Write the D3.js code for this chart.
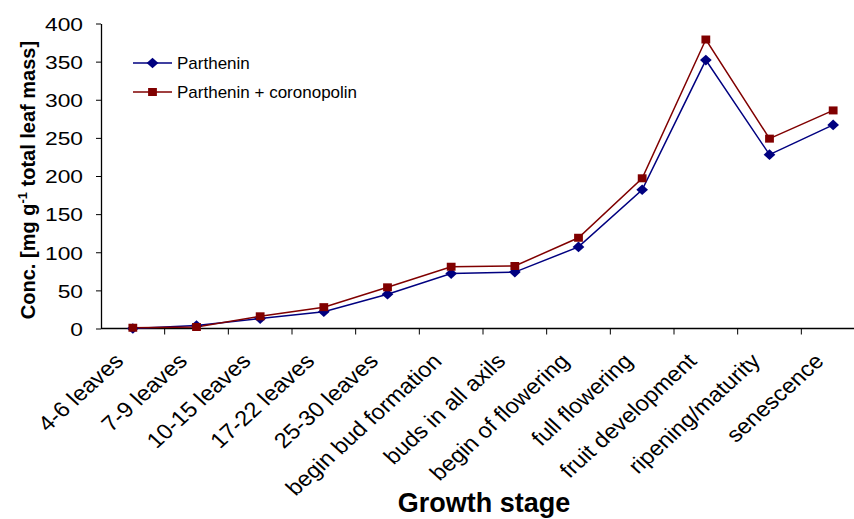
<!DOCTYPE html>
<html>
<head>
<meta charset="utf-8">
<script src="https://cdn.jsdelivr.net/npm/d3@7"></script>
<style>
  body { margin: 0; background: #fff; }
  svg { display: block; font-family: "Liberation Sans", Arial, sans-serif; }
</style>
</head>
<body>
<div id="chart"></div>
<script>
// growth stages along the x axis
const stages = ['4-6 leaves', '7-9 leaves', '10-15 leaves', '17-22 leaves', '25-30 leaves',
    'begin bud formation', 'buds in all axils', 'begin of flowering', 'full flowering',
    'fruit development', 'ripening/maturity', 'senescence'];

// concentrations
const parthenin = [0, 4, 13, 22, 45, 72, 74, 107, 182, 352, 228, 267];
const parthCoron = [1, 2, 16, 28, 54, 81, 82, 119, 197, 379, 249, 286];

const yTicks = [0, 50, 100, 150, 200, 250, 300, 350, 400];

const seriesNames = ['Parthenin', 'Parthenin + coronopolin'];
const seriesColors = ['#000080', '#800000'];

const width = 854, height = 519;
const stretch = 1.1; // the original picture is a bit wider than tall

const svg = d3.select('#chart').append('svg')
    .attr('width', width)
    .attr('height', height);

// band step ~63.7px, axis continues past the right edge like the original
const x = d3.scaleBand().domain(stages).range([101, 865]);
const y = d3.scaleLinear().domain([0, 400]).range([328.5, 23.5]);

// y axis
const yAxis = svg.append('g')
    .attr('transform', 'translate(101,0)')
    .call(d3.axisLeft(y).tickValues(yTicks).tickSize(5).tickSizeOuter(0));
yAxis.select('.domain').attr('stroke', '#000').attr('stroke-width', 1.3);
yAxis.selectAll('.tick line').attr('stroke', '#000');
yAxis.selectAll('.tick text')
    .attr('x', 0)
    .attr('transform', `translate(-18,0) scale(${stretch + 0.1},1)`)
    .attr('font-size', 19)
    .attr('font-family', '"Liberation Sans", Arial, sans-serif')
    .attr('fill', '#000')
    .attr('dy', '0.36em');

// x axis: ticks sit on the category boundaries
const xAxisG = svg.append('g').attr('transform', 'translate(0,328.5)');
xAxisG.append('line')
    .attr('x1', 101).attr('x2', 865)
    .attr('stroke', '#000').attr('stroke-width', 1.3);
xAxisG.selectAll('line.tk')
    .data(stages.slice(1))
    .join('line')
    .attr('class', 'tk')
    .attr('x1', d => x(d)).attr('x2', d => x(d))
    .attr('y1', 0).attr('y2', 6)
    .attr('stroke', '#000');

xAxisG.selectAll('text.lbl')
    .data(stages)
    .join('text')
    .attr('class', 'lbl')
    .attr('transform', d => `translate(${x(d) + x.bandwidth() / 2 - 8},34) scale(${stretch},1) rotate(-45)`)
    .attr('text-anchor', 'end')
    .attr('font-size', 21.5)
    .attr('fill', '#000')
    .text(d => d);

// axis titles
svg.append('text')
    .attr('transform', 'translate(35,180) rotate(-90)')
    .attr('text-anchor', 'middle')
    .attr('font-size', 20)
    .attr('font-weight', 'bold')
    .attr('fill', '#000')
    .html('Conc. [mg g<tspan dy="-8" font-size="13">-1</tspan><tspan dy="8"> total leaf mass]</tspan>');

svg.append('text')
    .attr('x', 484).attr('y', 512)
    .attr('text-anchor', 'middle')
    .attr('font-size', 27)
    .attr('font-weight', 'bold')
    .attr('fill', '#000')
    .text('Growth stage');

// lines + markers
const line = d3.line()
    .x((d, i) => x(stages[i]) + x.bandwidth() / 2)
    .y(d => y(d));

const allSeries = [parthenin, parthCoron];
const diamond = d3.symbol().type(d3.symbolDiamond2).size(72);
const square = d3.symbol().type(d3.symbolSquare).size(64);

allSeries.forEach((vals, k) => {
    svg.append('path')
        .datum(vals)
        .attr('fill', 'none')
        .attr('stroke', seriesColors[k])
        .attr('stroke-width', 1.5)
        .attr('d', line);
});

allSeries.forEach((vals, k) => {
    svg.append('g').selectAll('path')
        .data(vals)
        .join('path')
        .attr('transform', (d, i) => `translate(${x(stages[i]) + x.bandwidth() / 2},${y(d)}) scale(${stretch},1)`)
        .attr('d', k === 0 ? diamond : square)
        .attr('fill', seriesColors[k]);
});

// legend
const legend = svg.append('g');
seriesNames.forEach((name, k) => {
    const ly = 63 + k * 29;
    legend.append('line')
        .attr('x1', 133).attr('x2', 172)
        .attr('y1', ly).attr('y2', ly)
        .attr('stroke', seriesColors[k]).attr('stroke-width', 1.5);
    legend.append('path')
        .attr('transform', `translate(152.5,${ly}) scale(${stretch},1)`)
        .attr('d', k === 0 ? diamond : square)
        .attr('fill', seriesColors[k]);
    legend.append('text')
        .attr('x', 177).attr('y', ly)
        .attr('dy', '0.35em')
        .attr('font-size', 17)
        .attr('fill', '#000')
        .text(name);
});
</script>
</body>
</html>
